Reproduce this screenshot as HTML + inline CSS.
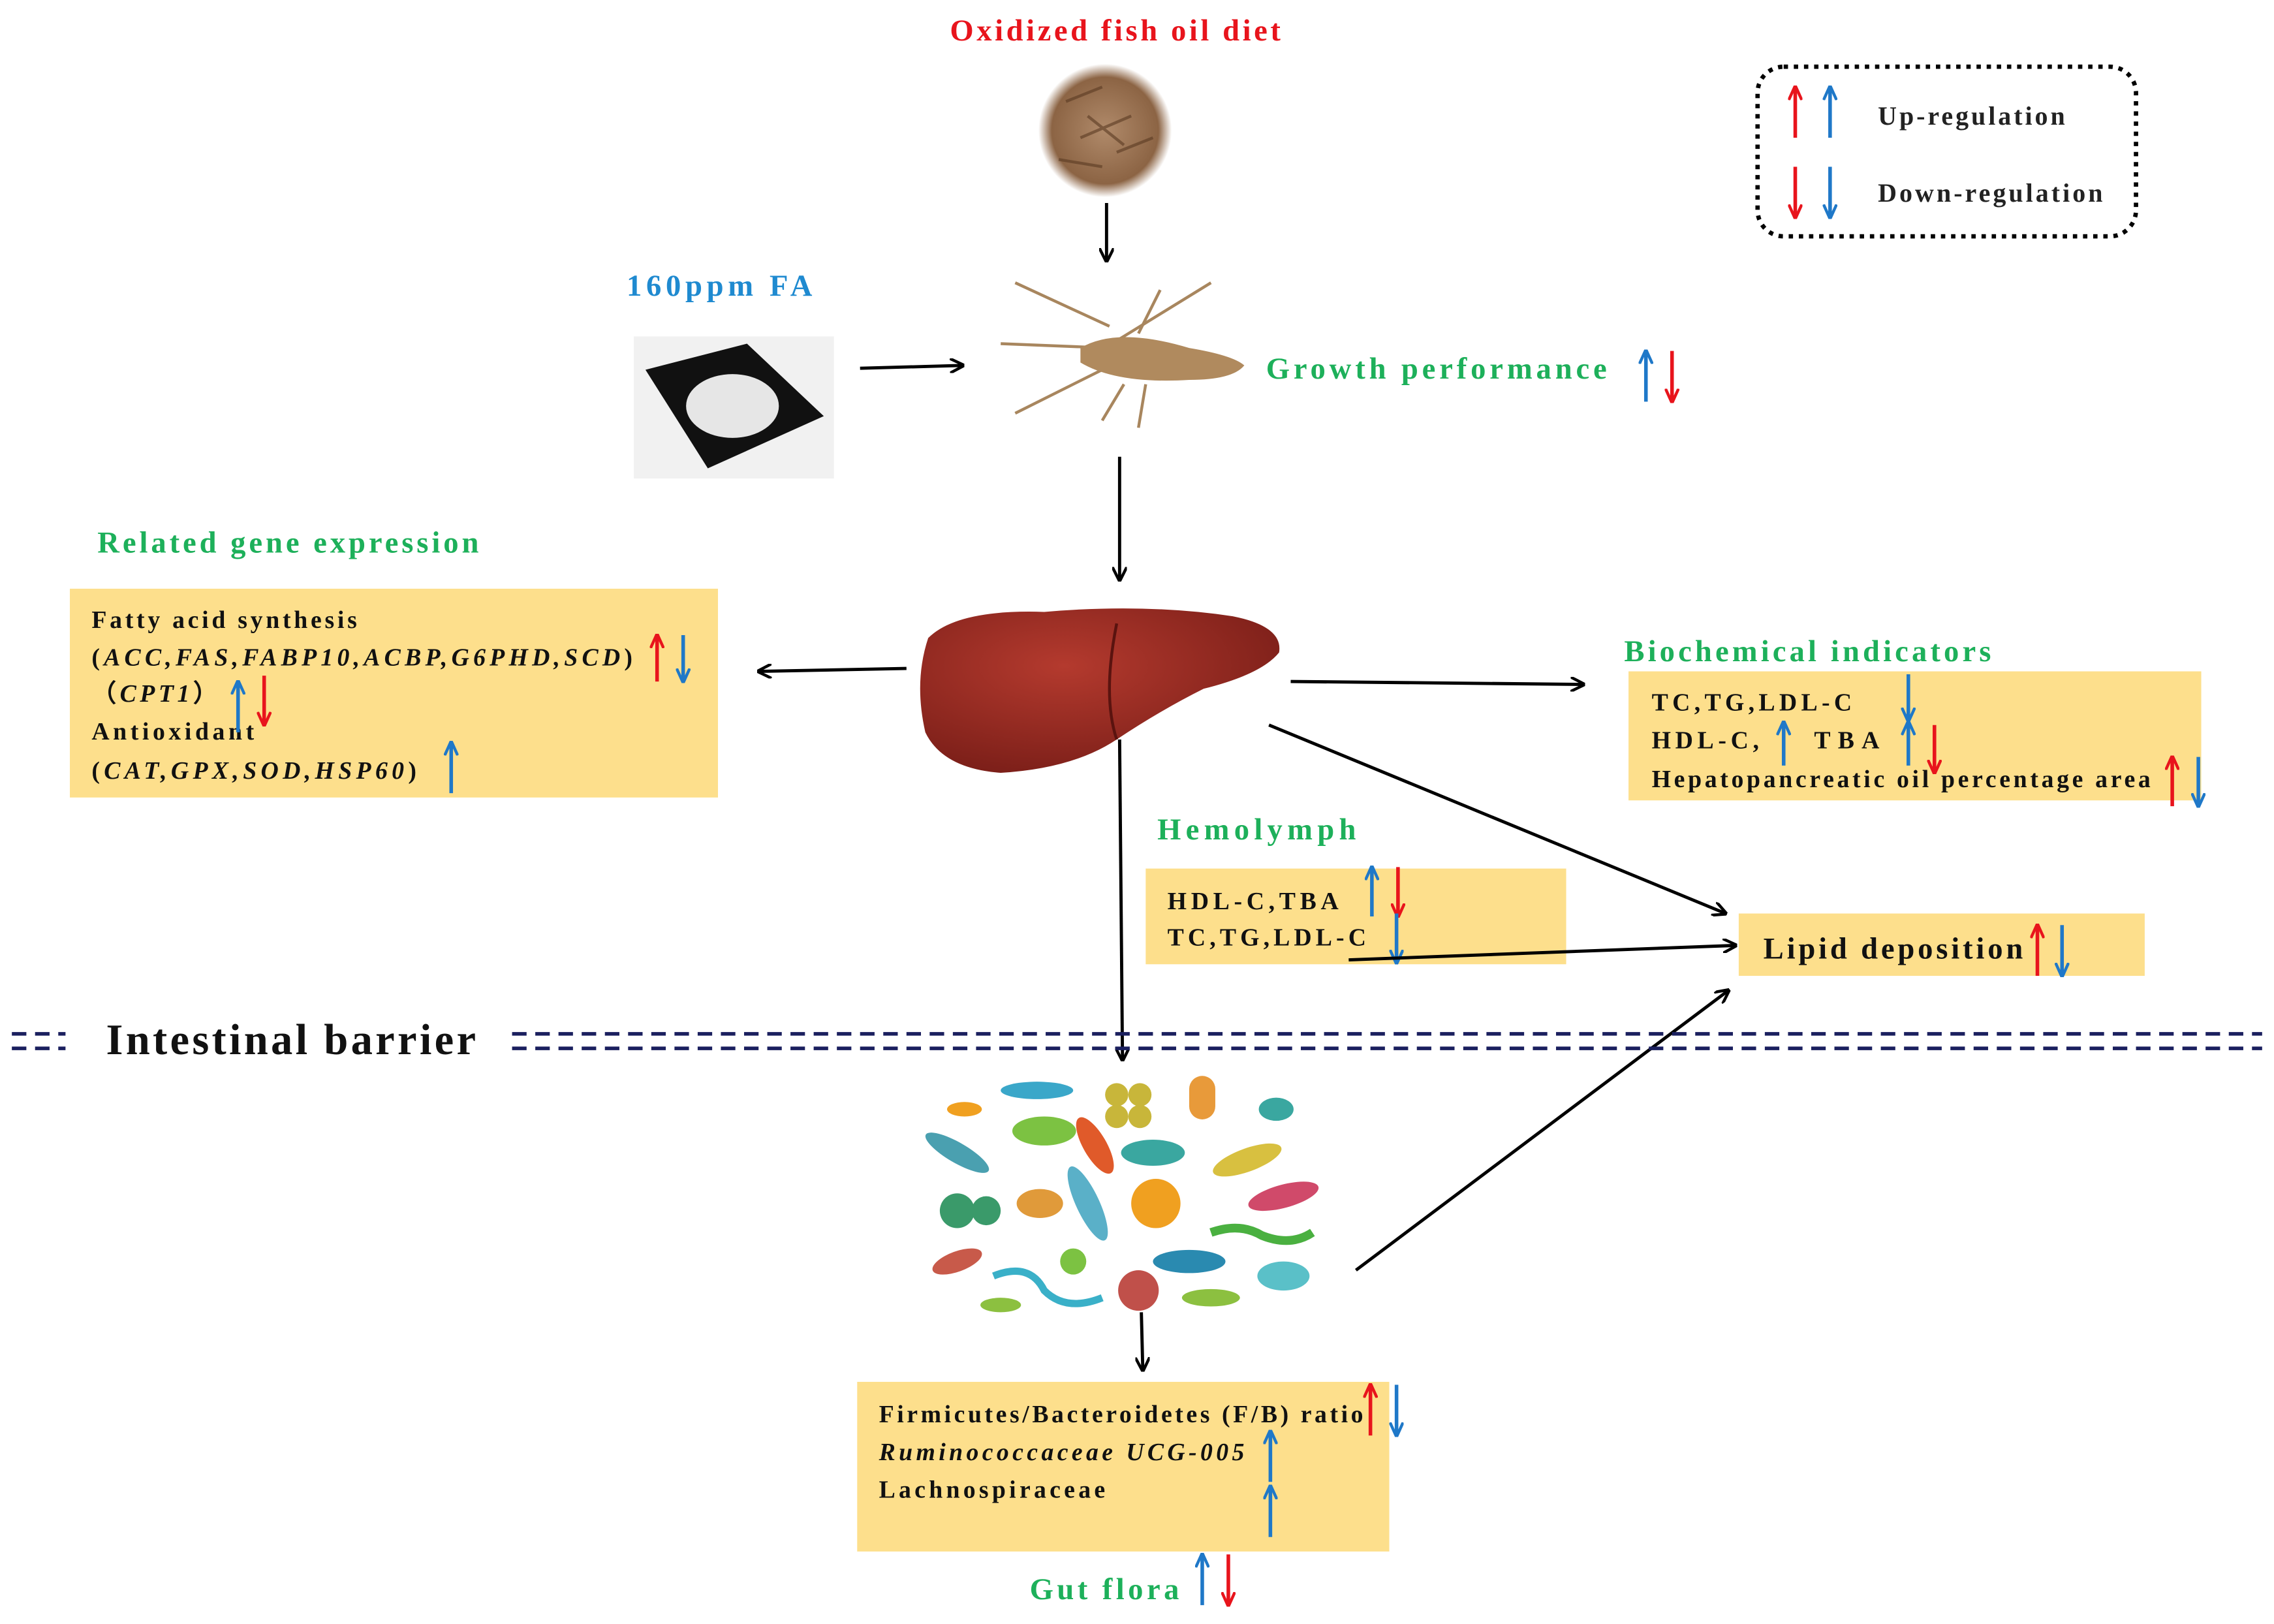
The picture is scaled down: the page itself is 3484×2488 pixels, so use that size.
<!DOCTYPE html>
<html><head><meta charset="utf-8">
<style>
html,body{margin:0;padding:0;background:#fff;}
svg{display:block;}
text{font-family:"Liberation Serif",serif;font-weight:bold;}
</style></head>
<body>
<svg width="3484" height="2488" viewBox="0 0 1568 1120" xmlns="http://www.w3.org/2000/svg">
<defs>
<marker id="ak" markerWidth="10" markerHeight="10" refX="9" refY="5" orient="auto" markerUnits="userSpaceOnUse"><path d="M0,0 L10,5 L0,10" fill="none" stroke="#000" stroke-width="2"/></marker>
<marker id="ar" markerWidth="10" markerHeight="10" refX="9" refY="5" orient="auto" markerUnits="userSpaceOnUse"><path d="M0,0.5 L10,5 L0,9.5" fill="none" stroke="#e8141c" stroke-width="2"/></marker>
<marker id="ab" markerWidth="10" markerHeight="10" refX="9" refY="5" orient="auto" markerUnits="userSpaceOnUse"><path d="M0,0.5 L10,5 L0,9.5" fill="none" stroke="#1f78c8" stroke-width="2"/></marker>
<radialGradient id="pel" cx="50%" cy="50%" r="50%"><stop offset="0" stop-color="#b08a6a"/><stop offset="0.8" stop-color="#8c6444"/><stop offset="1" stop-color="#fff"/></radialGradient>
<radialGradient id="liv" cx="40%" cy="35%" r="70%"><stop offset="0" stop-color="#b43a2e"/><stop offset="1" stop-color="#7a1e18"/></radialGradient>
</defs>
<g stroke-width="2.2" fill="none">
<line x1="763" y1="140" x2="763" y2="180" stroke="#000" marker-end="url(#ak)"/>
<line x1="593" y1="254" x2="664" y2="252" stroke="#000" marker-end="url(#ak)"/>
<line x1="772" y1="315" x2="772" y2="400" stroke="#000" marker-end="url(#ak)"/>
<line x1="625" y1="461" x2="523" y2="463" stroke="#000" marker-end="url(#ak)"/>
<line x1="890" y1="470" x2="1092" y2="472" stroke="#000" marker-end="url(#ak)"/>
<line x1="875" y1="500" x2="1190" y2="630" stroke="#000" marker-end="url(#ak)"/>
<line x1="772" y1="510" x2="774" y2="731" stroke="#000" marker-end="url(#ak)"/>
<line x1="935" y1="876" x2="1192" y2="683" stroke="#000" marker-end="url(#ak)"/>
<line x1="787" y1="905" x2="788" y2="945" stroke="#000" marker-end="url(#ak)"/>
</g>
<text x="655" y="28" font-size="21" fill="#e8141c" textLength="228" lengthAdjust="spacing">Oxidized fish oil diet</text>
<circle cx="762" cy="90" r="46" fill="url(#pel)"/>
<g stroke="#5a3a22" stroke-width="2" opacity="0.6">
<line x1="735" y1="70" x2="760" y2="60"/><line x1="745" y1="95" x2="780" y2="80"/><line x1="730" y1="110" x2="760" y2="115"/><line x1="770" y1="105" x2="795" y2="95"/><line x1="750" y1="80" x2="775" y2="100"/>
</g>
<rect x="1212" y="46" width="261" height="117" rx="18" fill="none" stroke="#000" stroke-width="3" stroke-dasharray="3,4"/>
<g stroke-width="2.5">
<line x1="1238" y1="95" x2="1238" y2="60" stroke="#e8141c" marker-end="url(#ar)"/>
<line x1="1262" y1="95" x2="1262" y2="60" stroke="#1f78c8" marker-end="url(#ab)"/>
<line x1="1238" y1="115" x2="1238" y2="150" stroke="#e8141c" marker-end="url(#ar)"/>
<line x1="1262" y1="115" x2="1262" y2="150" stroke="#1f78c8" marker-end="url(#ab)"/>
</g>
<text x="1295" y="86" font-size="18" fill="#222" textLength="129" lengthAdjust="spacing">Up-regulation</text>
<text x="1295" y="139" font-size="18" fill="#222" textLength="155" lengthAdjust="spacing">Down-regulation</text>
<text x="432" y="204" font-size="21" fill="#1f8ad0" textLength="128" lengthAdjust="spacing">160ppm FA</text>
<rect x="437" y="232" width="138" height="98" fill="#f1f1f1"/>
<path d="M445,255 L515,237 L568,287 L488,323 Z" fill="#111"/>
<ellipse cx="505" cy="280" rx="32" ry="22" fill="#e6e6e6"/>
<g stroke="#a8865e" stroke-width="2" fill="none">
<path d="M765,225 L700,195"/><path d="M765,240 L690,237"/><path d="M760,255 L700,285"/><path d="M770,235 L835,195"/><path d="M785,230 L800,200"/><path d="M790,265 L785,295"/><path d="M775,265 L760,290"/>
</g>
<path d="M745,240 Q770,225 820,240 Q850,245 858,252 Q850,262 820,262 Q770,265 745,250 Z" fill="#b08a5e"/>
<text x="873" y="261" font-size="21" fill="#1db05a" textLength="235" lengthAdjust="spacing">Growth performance</text>
<g stroke-width="2.5">
<line x1="1135" y1="277" x2="1135" y2="242" stroke="#1f78c8" marker-end="url(#ab)"/>
<line x1="1153" y1="242" x2="1153" y2="277" stroke="#e8141c" marker-end="url(#ar)"/>
</g>
<text x="67" y="381" font-size="21" fill="#1db05a" textLength="263" lengthAdjust="spacing">Related gene expression</text>
<rect x="48" y="406" width="447" height="144" fill="#fddf8c"/>
<g font-size="17" fill="#111">
<text x="63" y="433" textLength="183" lengthAdjust="spacing">Fatty acid synthesis</text>
<text x="63" y="459" textLength="373" lengthAdjust="spacing">(<tspan font-style="italic">ACC,FAS,FABP10,ACBP,G6PHD,SCD</tspan>)</text>
<text x="63" y="484" textLength="87" lengthAdjust="spacing">（<tspan font-style="italic">CPT1</tspan>）</text>
<text x="63" y="510" textLength="112" lengthAdjust="spacing">Antioxidant</text>
<text x="63" y="537" textLength="224" lengthAdjust="spacing">(<tspan font-style="italic">CAT,GPX,SOD,HSP60</tspan>)</text>
</g>
<g stroke-width="2.5">
<line x1="453" y1="470" x2="453" y2="438" stroke="#e8141c" marker-end="url(#ar)"/>
<line x1="471" y1="438" x2="471" y2="470" stroke="#1f78c8" marker-end="url(#ab)"/>
<line x1="164" y1="505" x2="164" y2="470" stroke="#1f78c8" marker-end="url(#ab)"/>
<line x1="182" y1="466" x2="182" y2="500" stroke="#e8141c" marker-end="url(#ar)"/>
<line x1="311" y1="547" x2="311" y2="512" stroke="#1f78c8" marker-end="url(#ab)"/>
</g>
<path d="M640,440 Q660,420 720,422 Q790,416 850,425 Q885,432 882,450 Q870,465 830,475 Q800,490 770,510 Q740,530 690,533 Q650,530 638,505 Q630,470 640,440 Z" fill="url(#liv)"/>
<path d="M770,430 Q760,480 770,510" fill="none" stroke="#5a130f" stroke-width="2"/>
<text x="1120" y="456" font-size="21" fill="#1db05a" textLength="253" lengthAdjust="spacing">Biochemical indicators</text>
<rect x="1123" y="463" width="395" height="89" fill="#fddf8c"/>
<g font-size="17" fill="#111">
<text x="1139" y="490" textLength="138" lengthAdjust="spacing">TC,TG,LDL-C</text>
<text x="1139" y="516" textLength="74" lengthAdjust="spacing">HDL-C,</text>
<text x="1251" y="516" textLength="45" lengthAdjust="spacing">TBA</text>
<text x="1139" y="543" textLength="344" lengthAdjust="spacing">Hepatopancreatic oil percentage area</text>
</g>
<g stroke-width="2.5">
<line x1="1316" y1="465" x2="1316" y2="497" stroke="#1f78c8" marker-end="url(#ab)"/>
<line x1="1230" y1="528" x2="1230" y2="498" stroke="#1f78c8" marker-end="url(#ab)"/>
<line x1="1316" y1="528" x2="1316" y2="498" stroke="#1f78c8" marker-end="url(#ab)"/>
<line x1="1334" y1="500" x2="1334" y2="533" stroke="#e8141c" marker-end="url(#ar)"/>
<line x1="1498" y1="556" x2="1498" y2="522" stroke="#e8141c" marker-end="url(#ar)"/>
<line x1="1516" y1="522" x2="1516" y2="556" stroke="#1f78c8" marker-end="url(#ab)"/>
</g>
<text x="798" y="579" font-size="21" fill="#1db05a" textLength="137" lengthAdjust="spacing">Hemolymph</text>
<rect x="790" y="599" width="290" height="66" fill="#fddf8c"/>
<g font-size="17" fill="#111">
<text x="805" y="627" textLength="118" lengthAdjust="spacing">HDL-C,TBA</text>
<text x="805" y="652" textLength="137" lengthAdjust="spacing">TC,TG,LDL-C</text>
</g>
<g stroke-width="2.5">
<line x1="946" y1="632" x2="946" y2="598" stroke="#1f78c8" marker-end="url(#ab)"/>
<line x1="964" y1="598" x2="964" y2="632" stroke="#e8141c" marker-end="url(#ar)"/>
<line x1="963" y1="630" x2="963" y2="664" stroke="#1f78c8" marker-end="url(#ab)"/>
</g>
<line x1="930" y1="662" x2="1197" y2="652" stroke="#000" stroke-width="2.2" marker-end="url(#ak)"/>
<rect x="1199" y="630" width="280" height="43" fill="#fddf8c"/>
<text x="1216" y="661" font-size="21" fill="#111" textLength="179" lengthAdjust="spacing">Lipid deposition</text>
<g stroke-width="2.5">
<line x1="1405" y1="673" x2="1405" y2="638" stroke="#e8141c" marker-end="url(#ar)"/>
<line x1="1422" y1="638" x2="1422" y2="673" stroke="#1f78c8" marker-end="url(#ab)"/>
</g>
<g stroke="#1a1f5e" stroke-width="2.5" stroke-dasharray="10,6">
<line x1="8" y1="713" x2="45" y2="713"/><line x1="8" y1="723" x2="45" y2="723"/>
<line x1="353" y1="713" x2="1560" y2="713"/><line x1="353" y1="723" x2="1560" y2="723"/>
</g>
<text x="73" y="727" font-size="30" fill="#111" textLength="255" lengthAdjust="spacing">Intestinal barrier</text>
<g>
<ellipse cx="720" cy="780" rx="22" ry="10" fill="#7cc242"/>
<ellipse cx="715" cy="752" rx="25" ry="6" fill="#3aa7c9"/>
<circle cx="770" cy="755" r="8" fill="#c8b63a"/><circle cx="786" cy="755" r="8" fill="#c8b63a"/><circle cx="770" cy="770" r="8" fill="#c8b63a"/><circle cx="786" cy="770" r="8" fill="#c8b63a"/>
<rect x="820" y="742" width="18" height="30" rx="9" fill="#e89a3a"/>
<ellipse cx="755" cy="790" rx="8" ry="22" transform="rotate(-30 755 790)" fill="#e05a2a"/>
<ellipse cx="795" cy="795" rx="22" ry="9" fill="#3aa7a0"/>
<ellipse cx="660" cy="795" rx="25" ry="7" transform="rotate(30 660 795)" fill="#4aa0b0"/>
<ellipse cx="860" cy="800" rx="25" ry="8" transform="rotate(-20 860 800)" fill="#d8c040"/>
<circle cx="660" cy="835" r="12" fill="#3a9a6a"/><circle cx="680" cy="835" r="10" fill="#3a9a6a"/>
<ellipse cx="717" cy="830" rx="16" ry="10" fill="#e09a3a"/>
<ellipse cx="750" cy="830" rx="8" ry="28" transform="rotate(-25 750 830)" fill="#5ab0c8"/>
<circle cx="797" cy="830" r="17" fill="#f0a020"/>
<ellipse cx="885" cy="825" rx="25" ry="8" transform="rotate(-15 885 825)" fill="#d04a6a"/>
<ellipse cx="660" cy="870" rx="18" ry="7" transform="rotate(-20 660 870)" fill="#c85a4a"/>
<path d="M685,880 Q710,870 720,890 Q735,905 760,895" stroke="#3ab0c8" stroke-width="5" fill="none"/>
<circle cx="740" cy="870" r="9" fill="#7cc242"/>
<ellipse cx="820" cy="870" rx="25" ry="8" fill="#2a8ab0"/>
<path d="M835,850 Q855,843 870,852 Q890,860 905,850" stroke="#4ab040" stroke-width="6" fill="none"/>
<ellipse cx="885" cy="880" rx="18" ry="10" fill="#5ac0c8"/>
<circle cx="785" cy="890" r="14" fill="#c0504a"/>
<ellipse cx="835" cy="895" rx="20" ry="6" fill="#8cc040"/>
<ellipse cx="690" cy="900" rx="14" ry="5" fill="#8cc040"/>
<ellipse cx="880" cy="765" rx="12" ry="8" fill="#3aa7a0"/>
<ellipse cx="665" cy="765" rx="12" ry="5" fill="#f0a020"/>
</g>
<rect x="591" y="953" width="367" height="117" fill="#fddf8c"/>
<g font-size="17" fill="#111">
<text x="606" y="981" textLength="334" lengthAdjust="spacing">Firmicutes/Bacteroidetes (F/B) ratio</text>
<text x="606" y="1007" font-style="italic" textLength="252" lengthAdjust="spacing">Ruminococcaceae UCG-005</text>
<text x="606" y="1033" textLength="156" lengthAdjust="spacing">Lachnospiraceae</text>
</g>
<g stroke-width="2.5">
<line x1="945" y1="990" x2="945" y2="955" stroke="#e8141c" marker-end="url(#ar)"/>
<line x1="963" y1="955" x2="963" y2="990" stroke="#1f78c8" marker-end="url(#ab)"/>
<line x1="876" y1="1022" x2="876" y2="987" stroke="#1f78c8" marker-end="url(#ab)"/>
<line x1="876" y1="1060" x2="876" y2="1025" stroke="#1f78c8" marker-end="url(#ab)"/>
</g>
<text x="710" y="1103" font-size="21" fill="#1db05a" textLength="103" lengthAdjust="spacing">Gut flora</text>
<g stroke-width="2.5">
<line x1="829" y1="1107" x2="829" y2="1072" stroke="#1f78c8" marker-end="url(#ab)"/>
<line x1="847" y1="1072" x2="847" y2="1107" stroke="#e8141c" marker-end="url(#ar)"/>
</g>
</svg>
</body></html>
